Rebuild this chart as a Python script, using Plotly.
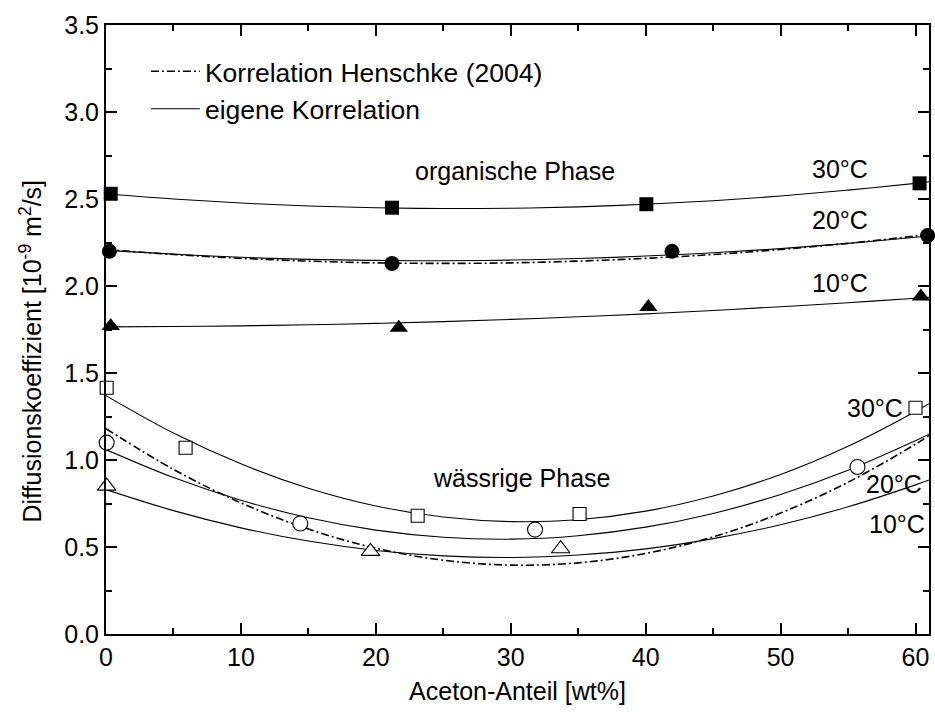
import plotly.graph_objects as go

# ---- measured diffusion coefficients [1e-9 m^2/s] vs acetone fraction [wt%] ----
# organic phase (filled symbols)
org30_x = [0.35, 21.2, 40.05, 60.3]
org30_y = [2.53, 2.45, 2.47, 2.59]
org20_x = [0.25, 21.2, 41.95, 60.9]
org20_y = [2.20, 2.13, 2.20, 2.29]
org10_x = [0.35, 21.7, 40.2, 60.4]
org10_y = [1.77, 1.76, 1.88, 1.94]

# aqueous phase (open symbols)
aq30_x = [0.05, 5.9, 23.1, 35.1, 60.0]
aq30_y = [1.415, 1.07, 0.68, 0.69, 1.30]
aq20_x = [0.05, 14.4, 31.8, 55.7]
aq20_y = [1.10, 0.635, 0.60, 0.96]
aq10_x = [0.05, 19.6, 33.7]
aq10_y = [0.85, 0.475, 0.49]

# ---- correlation curves, read at fixed acetone fractions ----
curve_x = [0, 5, 10, 15, 20, 25, 30, 35, 40, 45, 50, 55, 60, 61]
# own correlation
own_org30 = [2.530, 2.500, 2.477, 2.460, 2.450, 2.445, 2.447, 2.455, 2.470, 2.490, 2.517, 2.551, 2.590, 2.599]
own_org20 = [2.205, 2.183, 2.165, 2.153, 2.147, 2.145, 2.149, 2.158, 2.172, 2.191, 2.215, 2.245, 2.280, 2.287]
own_org10 = [1.765, 1.767, 1.771, 1.777, 1.785, 1.795, 1.808, 1.823, 1.840, 1.859, 1.881, 1.904, 1.930, 1.935]
own_aq30 = [1.370, 1.155, 0.978, 0.838, 0.736, 0.672, 0.646, 0.657, 0.706, 0.793, 0.917, 1.079, 1.279, 1.324]
own_aq20 = [1.060, 0.899, 0.769, 0.668, 0.597, 0.556, 0.545, 0.565, 0.614, 0.693, 0.802, 0.941, 1.111, 1.148]
own_aq10 = [0.830, 0.709, 0.610, 0.534, 0.480, 0.449, 0.440, 0.454, 0.489, 0.548, 0.628, 0.731, 0.857, 0.885]
# Henschke (2004) correlation, 20 °C
hen_org20 = [2.210, 2.181, 2.159, 2.143, 2.133, 2.130, 2.133, 2.143, 2.159, 2.181, 2.210, 2.245, 2.287, 2.296]
hen_aq20 = [1.180, 0.946, 0.754, 0.603, 0.493, 0.424, 0.396, 0.409, 0.463, 0.558, 0.695, 0.872, 1.091, 1.140]

# ---- labels ----
legend_hen = "Korrelation Henschke (2004)"
legend_own = "eigene Korrelation"
x_title = "Aceton-Anteil [wt%]"
y_title = "Diffusionskoeffizient [10<sup>-9</sup> m<sup>2</sup>/s]"
phase_labels = [("organische Phase", 30.3, 2.66), ("wässrige Phase", 30.8, 0.894)]
temp_labels = [("30°C", 54.4, 2.67), ("20°C", 54.4, 2.38), ("10°C", 54.4, 2.02),
               ("30°C", 57.0, 1.30), ("20°C", 58.4, 0.863), ("10°C", 58.6, 0.633)]

FONT = "Liberation Sans, Arial, Helvetica, sans-serif"
BLACK = "#000000"
DASHDOT = "8px,3px,2px,3px"

fig = go.Figure()

# Henschke curves (dash-dot)
fig.add_trace(go.Scatter(x=curve_x, y=hen_org20, mode="lines", line_shape="spline",
                         line=dict(color=BLACK, width=1.6, dash=DASHDOT),
                         name=legend_hen, showlegend=True))
fig.add_trace(go.Scatter(x=curve_x, y=hen_aq20, mode="lines", line_shape="spline",
                         line=dict(color=BLACK, width=1.6, dash=DASHDOT),
                         showlegend=False))

# own correlation (solid)
first = True
for ys in [own_org30, own_org20, own_org10, own_aq30, own_aq20, own_aq10]:
    fig.add_trace(go.Scatter(x=curve_x, y=ys, mode="lines", line_shape="spline",
                             line=dict(color=BLACK, width=1.1),
                             name=legend_own, showlegend=first))
    first = False

# measured points
def pts(xs, ys, symbol, size, filled):
    fig.add_trace(go.Scatter(
        x=xs, y=ys, mode="markers", showlegend=False, cliponaxis=False,
        marker=dict(symbol=symbol, size=size,
                    color=BLACK if filled else "white",
                    line=dict(color=BLACK, width=0 if filled else 1.1))))

pts(org30_x, org30_y, "square", 14, True)
pts(org20_x, org20_y, "circle", 15, True)
pts(org10_x, org10_y, "triangle-up", 16, True)
pts(aq30_x, aq30_y, "square", 13, False)
pts(aq20_x, aq20_y, "circle", 15, False)
pts(aq10_x, aq10_y, "triangle-up", 16, False)

for text, x, y in phase_labels + temp_labels:
    fig.add_annotation(x=x, y=y, text=text, showarrow=False,
                       xanchor="center", yanchor="middle",
                       font=dict(family=FONT, size=25, color=BLACK))

# y-axis title
fig.add_annotation(xref="paper", yref="paper", x=-0.091, y=0.464, text=y_title,
                   textangle=-90, showarrow=False, xanchor="center", yanchor="middle",
                   font=dict(family=FONT, size=25, color=BLACK))

axis_common = dict(
    showgrid=False, zeroline=False, showline=True, linecolor=BLACK, linewidth=2,
    mirror="ticks", ticks="inside", ticklen=11, tickwidth=2, tickcolor=BLACK,
    tickfont=dict(family=FONT, size=25, color=BLACK),
)

fig.update_xaxes(range=[0, 61], tick0=0, dtick=10,
                 minor=dict(ticks="inside", dtick=5, ticklen=6, tickwidth=2, tickcolor=BLACK),
                 title=dict(text=x_title, font=dict(family=FONT, size=25, color=BLACK), standoff=12),
                 **axis_common)
fig.update_yaxes(range=[0, 3.5], tick0=0, dtick=0.5, tickformat=".1f",
                 minor=dict(ticks="inside", dtick=0.25, ticklen=6, tickwidth=2, tickcolor=BLACK),
                 **axis_common)

fig.update_layout(
    width=935, height=718,
    margin=dict(l=106, r=4, t=25, b=84, pad=0),
    paper_bgcolor="white", plot_bgcolor="white",
    font=dict(family=FONT, size=25, color=BLACK),
    legend=dict(x=0.0485, y=0.963, xanchor="left", yanchor="top", itemwidth=49,
                bgcolor="rgba(0,0,0,0)", borderwidth=0, tracegroupgap=0,
                font=dict(family=FONT, size=26.5, color=BLACK)),
)

fig.write_html("out.html")
